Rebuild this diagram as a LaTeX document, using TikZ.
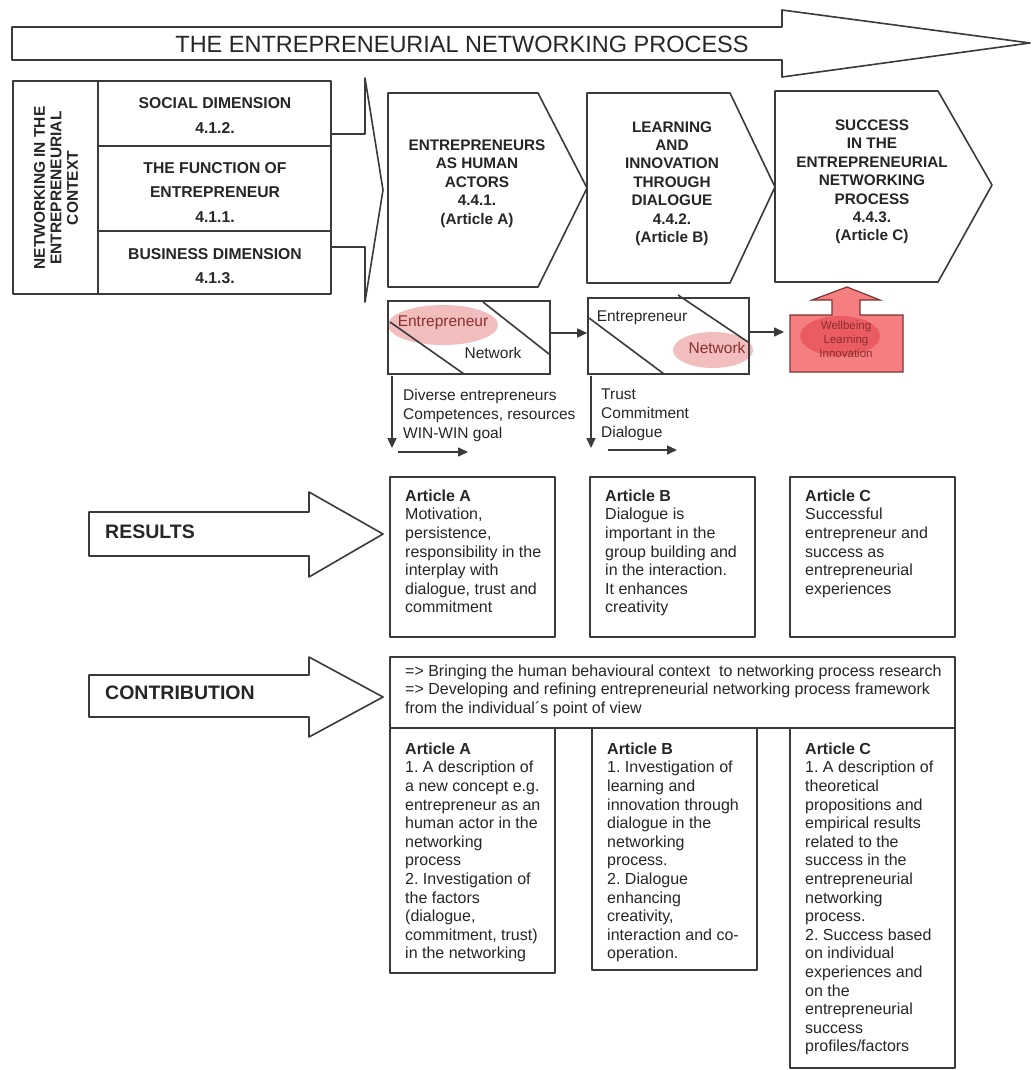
\documentclass[tikz,border=0pt]{standalone}
\usepackage{fontspec}
\setmainfont{Liberation Sans}
\usetikzlibrary{arrows.meta}
\frenchspacing
\definecolor{ln}{HTML}{3A3A3A}
\definecolor{tx}{HTML}{262626}
\definecolor{pinkf}{HTML}{F2BDBD}
\definecolor{redf}{HTML}{F47E80}
\definecolor{redi}{HTML}{EA5C62}
\definecolor{redt}{HTML}{8A2E2E}
\definecolor{redl}{HTML}{7E3434}
\newcommand{\fl}{\rule{0pt}{12pt}}
\tikzset{
  shp/.style={draw=ln, line width=1.6pt, line join=round},
  bodytxt/.style={anchor=north west, inner sep=0pt, align=left, text=tx, font=\fontsize{16}{18.6}\selectfont},
  hd/.style={inner sep=0pt, align=center, text=tx, font=\bfseries\fontsize{15.7}{24.5}\selectfont},
  chv/.style={inner sep=0pt, align=center, text=tx, font=\bfseries\fontsize{15.3}{18.4}\selectfont},
  lbl/.style={anchor=west, inner sep=0pt, text=tx, font=\bfseries\fontsize{19.5}{22}\selectfont},
  smalltxt/.style={inner sep=0pt, text=tx, font=\fontsize{15.5}{19}\selectfont},
  smallbox/.style={draw=ln, line width=1.6pt, inner sep=0pt},
  arr/.style={draw=ln, line width=1.6pt, -{Triangle[length=10pt,width=9pt]}},
}
\begin{document}
\begin{tikzpicture}[x=1pt,y=-1pt]
\useasboundingbox (0,0) rectangle (1033,1070);
\fill[white] (0,0) rectangle (1033,1070);

% title arrow
\draw[shp] (12,27) -- (782,27) -- (782,10) -- (1030,43) -- (782,77) -- (782,60) -- (12,60) -- cycle;
\node[inner sep=0pt, text=tx, font=\fontsize{23.5}{26}\selectfont] (title) at (462,44) {THE ENTREPRENEURIAL NETWORKING PROCESS};

% left context box
\draw[shp] (13,81) rectangle (331,294);
\draw[shp] (98,81) -- (98,294);
\draw[shp] (98,146) -- (331,146);
\draw[shp] (98,231) -- (331,231);
\node[hd, rotate=90, font=\bfseries\fontsize{15.5}{16.5}\selectfont] (ctx) at (56,188) {NETWORKING IN THE\\ENTREPRENEURIAL\\CONTEXT};
\node[hd] (soc) at (215,115.5) {SOCIAL DIMENSION\\4.1.2.};
\node[hd] (fun) at (215,192.5) {THE FUNCTION OF\\ENTREPRENEUR\\4.1.1.};
\node[hd] (bus) at (215,266) {BUSINESS DIMENSION\\4.1.3.};

% left block arrow
\draw[shp] (331,134) -- (365,134) -- (365,78) -- (383,190) -- (365,302) -- (365,247) -- (331,247);

% chevrons
\draw[shp] (388,93) -- (538,93) -- (587,188) -- (538,287) -- (388,287) -- cycle;
\draw[shp] (587,93) -- (730,93) -- (775,187) -- (730,283) -- (587,283) -- cycle;
\draw[shp] (775,91) -- (938,91) -- (992,185) -- (938,282) -- (775,282) -- cycle;
\node[chv] (ch1) at (477,183.5) {ENTREPRENEURS\\AS HUMAN\\ACTORS\\4.4.1.\\(Article A)};
\node[chv] (ch2) at (672,183.5) {LEARNING\\AND\\INNOVATION\\THROUGH\\DIALOGUE\\4.4.2.\\(Article B)};
\node[chv] (ch3) at (872,182) {SUCCESS\\IN THE\\ENTREPRENEURIAL\\NETWORKING\\PROCESS\\4.4.3.\\(Article C)};

% small diagrams
\fill[pinkf] (443,325) ellipse [x radius=55pt, y radius=20pt];
\fill[pinkf] (713,350) ellipse [x radius=40pt, y radius=18pt];
\node[smallbox, minimum width=162pt, minimum height=73pt] (box1) at (469,337.5) {};
\node[smallbox, minimum width=161pt, minimum height=76pt] (box2) at (668.5,336) {};
\draw[shp] (390,322) -- (464,374);
\draw[shp] (483,302) -- (549,354);
\draw[shp] (589,318) -- (664,374);
\draw[shp] (678,295) -- (748,342);
\node[smalltxt, text=redt] (en1) at (443,323) {Entrepreneur};
\node[smalltxt] (nw1) at (493,353) {Network};
\node[smalltxt] (en2) at (642,318) {Entrepreneur};
\node[smalltxt, text=redt] (nw2) at (717,348) {Network};

% red block
\draw[draw=redl, fill=redf, line width=1.2pt, line join=miter] (790,315) -- (832,315) -- (832,300) -- (812,300) -- (847,287) -- (880,300) -- (860,300) -- (860,315) -- (903,315) -- (903,372) -- (790,372) -- cycle;
\fill[redi] (840,336) ellipse [x radius=40pt, y radius=20pt];
\node[inner sep=0pt, align=center, text=redt, font=\fontsize{11.5}{14}\selectfont] (wli) at (846,339) {Wellbeing\\Learning\\Innovation};
\coordinate (redw) at (790,332);

% arrows between diagrams
\coordinate (a1) at (550,333);
\draw[arr] (a1) -- (a1 -| box2.west);
\coordinate (a2) at (749,332);
\draw[arr, shorten >=6pt] (a2) -- (redw);

% down and right arrows
\coordinate (d1s) at (392,376);
\coordinate (d1e) at (392,448);
\draw[arr] (d1s) -- (d1e);
\coordinate (h1s) at (398,452);
\coordinate (h1e) at (468,452);
\draw[arr] (h1s) -- (h1e);
\coordinate (d2s) at (591,376);
\coordinate (d2e) at (591,448);
\draw[arr] (d2s) -- (d2e);
\coordinate (h2s) at (608,450);
\coordinate (h2e) at (677,450);
\draw[arr] (h2s) -- (h2e);
\node[bodytxt, font=\fontsize{15.5}{19}\selectfont] (div) at (403,388.5) {\fl Diverse entrepreneurs\\Competences, resources\\WIN-WIN goal};
\node[bodytxt, font=\fontsize{15.5}{19}\selectfont] (tcd) at (601,387) {\fl Trust\\Commitment\\Dialogue};

% results / contribution arrows
\draw[shp] (89,512) -- (309,512) -- (309,492) -- (383,534) -- (309,577) -- (309,556) -- (89,556) -- cycle;
\node[lbl] (res) at (105,532) {RESULTS};
\draw[shp] (89,675) -- (309,675) -- (309,657) -- (383,697) -- (309,737) -- (309,717) -- (89,717) -- cycle;
\node[lbl] (con) at (105,693) {CONTRIBUTION};

% results boxes
\draw[shp] (390,477) rectangle (555,637);
\draw[shp] (590,477) rectangle (755,637);
\draw[shp] (790,477) rectangle (955,637);
\node[bodytxt] (ra) at (405,489) {\fl\textbf{Article A}\\Motivation,\\persistence,\\responsibility in the\\interplay with\\dialogue, trust and\\commitment};
\node[bodytxt] (rb) at (605,489) {\fl\textbf{Article B}\\Dialogue is\\important in the\\group building and\\in the interaction.\\It enhances\\creativity};
\node[bodytxt] (rc) at (805,489) {\fl\textbf{Article C}\\Successful\\entrepreneur and\\success as\\entrepreneurial\\experiences};

% contribution box
\draw[shp] (390,657) rectangle (955,728);
\node[bodytxt] (ct) at (405,664) {\fl=> Bringing the human behavioural context\ \ to networking process research\\=> Developing and refining entrepreneurial networking process framework\\from the individual´s point of view};

% contribution article boxes
\draw[shp] (390,728) rectangle (555,973);
\draw[shp] (592,728) rectangle (757,970);
\draw[shp] (790,728) rectangle (955,1068);
\node[bodytxt] (ca) at (405,742) {\fl\textbf{Article A}\\1. A description of\\a new concept e.g.\\entrepreneur as an\\human actor in the\\networking\\process\\2. Investigation of\\the factors\\(dialogue,\\commitment, trust)\\in the networking};
\node[bodytxt] (cb) at (607,742) {\fl\textbf{Article B}\\1. Investigation of\\learning and\\innovation through\\dialogue in the\\networking\\process.\\2. Dialogue\\enhancing\\creativity,\\interaction and co-\\operation.};
\node[bodytxt] (cc) at (805,742) {\fl\textbf{Article C}\\1. A description of\\theoretical\\propositions and\\empirical results\\related to the\\success in the\\entrepreneurial\\networking\\process.\\2. Success based\\on individual\\experiences and\\on the\\entrepreneurial\\success\\profiles/factors};
\end{tikzpicture}
\end{document}
